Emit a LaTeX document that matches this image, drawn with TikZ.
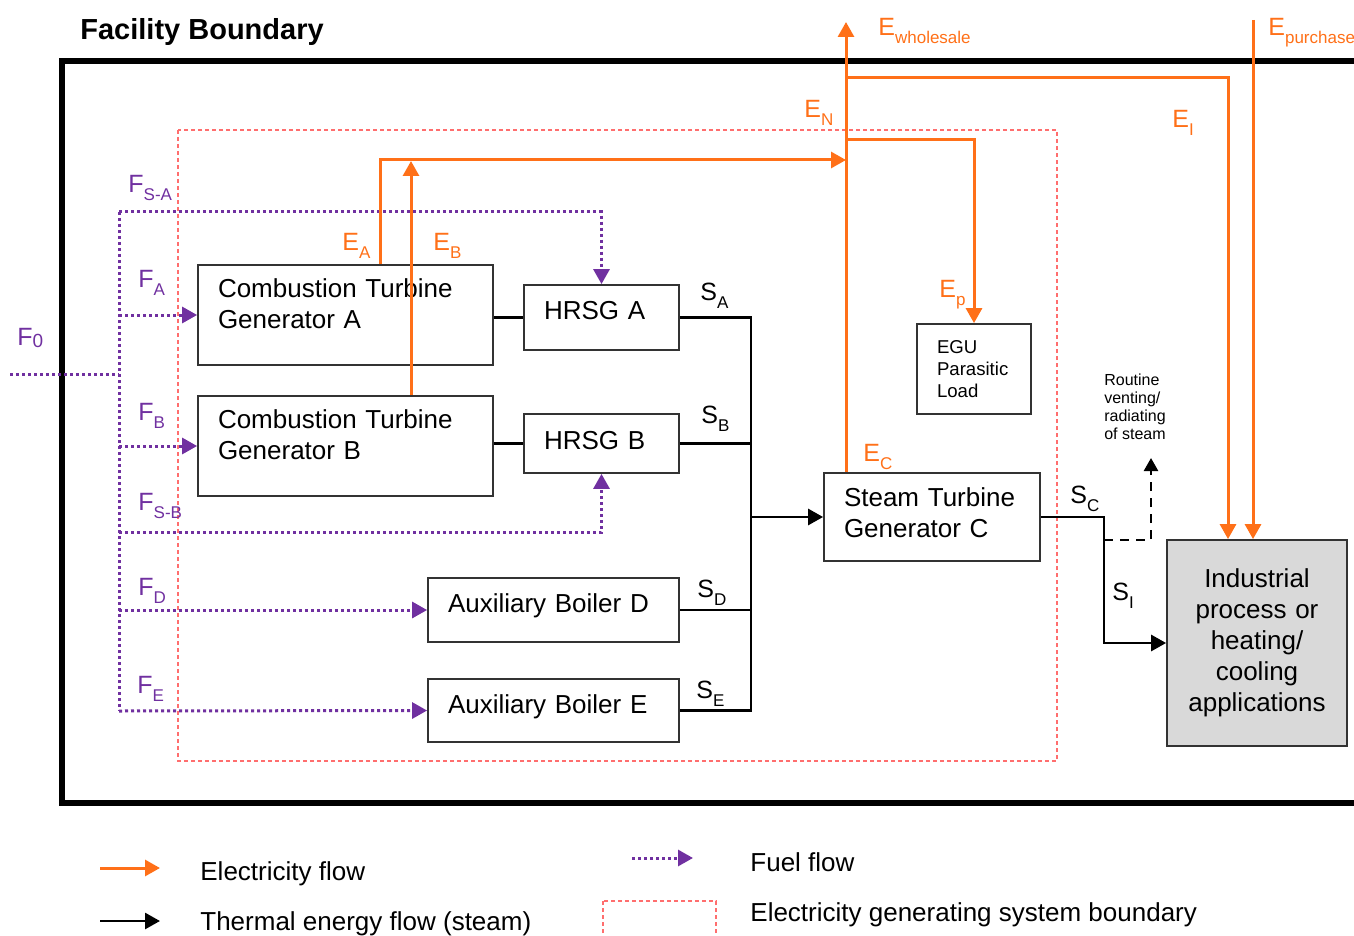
\documentclass[tikz,border=0pt]{standalone}
\usepackage{fontspec}
\setmainfont{Liberation Sans}
\usetikzlibrary{arrows.meta,calc}
\definecolor{ElecOrange}{RGB}{255,112,24}
\definecolor{FuelPurple}{RGB}{112,48,160}
\definecolor{BoundRed}{RGB}{255,110,110}
\definecolor{IndGray}{RGB}{217,217,217}
\newcommand{\Unit}{0.5pt}
\newcommand{\BoxFont}{\fontsize{13}{15.3}\selectfont}
\newcommand{\LabFont}{\fontsize{12.5}{14}\selectfont}
\newcommand{\Lab}[2]{#1\raisebox{-4pt}{\fontsize{8.5}{9}\selectfont #2}}
\tikzset{Box/.style 2 args={
    draw=black!80,
    line width=0.9pt,
    fill=white,
    inner sep=0pt,
    minimum width=#1,
    text width=#1-20pt,
    minimum height=#2,
    align=left,
    font=\BoxFont,
    }
}

\begin{document}
\begin{tikzpicture}[x=\Unit, y=-\Unit,
    elec/.style={draw=ElecOrange, line width=1.5pt},
    steam/.style={draw=black, line width=1.4pt},
    fuel/.style={draw=FuelPurple, line width=1.5pt, dash pattern=on 1.5pt off 1.5pt},
    vent/.style={draw=black, line width=1.2pt, dash pattern=on 4.5pt off 3.5pt},
    bound/.style={draw=BoundRed, line width=0.6pt, dash pattern=on 2pt off 1.5pt},
    tip/.style={-{Triangle[length=7.5pt,width=8pt]}},
    Lbl/.style={inner sep=0pt, anchor=base west, font=\LabFont, text=#1},
]
\useasboundingbox (0,0) rectangle (1354,936);

% boundaries
\draw[line width=3pt] (1360,61) -- (62,61) -- (62,803) -- (1360,803);
\draw[bound] (178,130) rectangle (1057,761);
\node[inner sep=0pt, anchor=base west, font=\bfseries\fontsize{14.5}{16}\selectfont] (title) at (80,40) {Facility Boundary};

% units
\node[Box={147.5pt}{50pt}, text depth=26.5pt] (ctgA) at (345.5,315) {Combustion Turbine\\Generator A};
\node[Box={147.5pt}{50pt}, text depth=26.5pt] (ctgB) at (345.5,446) {Combustion Turbine\\Generator B};
\node[Box={77.5pt}{32.5pt}, text depth=7pt] (hrsgA) at (601.5,317.5) {HRSG A};
\node[Box={77.5pt}{29.5pt}, text depth=3pt] (hrsgB) at (601.5,443.5) {HRSG B};
\node[Box={125.5pt}{32pt}, text depth=6.5pt] (boilD) at (553.5,610) {Auxiliary Boiler D};
\node[Box={125.5pt}{31.5pt}, text depth=6.5pt] (boilE) at (553.5,710.5) {Auxiliary Boiler E};
\node[Box={108pt}{44pt}, text depth=19.5pt] (stgC) at (932,517) {Steam Turbine\\Generator C};
\node[Box={57pt}{45pt}, font=\fontsize{9.3}{10.8}\selectfont] (egu) at (974,369) {EGU\\Parasitic\\Load};
\node[Box={90pt}{103pt}, fill=IndGray, align=center, font=\fontsize{13}{15.5}\selectfont] (ind) at (1257,643) {Industrial\\process or\\heating/\\cooling\\applications};
\node[inner sep=0pt, align=left, font=\fontsize{8}{9}\selectfont] (venttxt) at (1135,407) {Routine\\venting/\\radiating\\of steam};

% steam
\coordinate (sbus) at (751,517);
\coordinate (sj) at (1104,517);
\coordinate (si) at (1104,643);
\coordinate (vj) at (1104,540);
\coordinate (vtop) at (1151,458);
\draw[steam] (ctgA.east |- hrsgA.west) -- (hrsgA.west);
\draw[steam] (ctgB.east |- hrsgB.west) -- (hrsgB.west);
\draw[steam] (hrsgA.east) -| (sbus);
\draw[steam] (boilE.east) -| (sbus);
\draw[steam] (hrsgB.east) -- (hrsgB.east -| sbus);
\draw[steam] (boilD.east) -- (boilD.east -| sbus);
\draw[steam, tip] (sbus) -- (stgC.west);
\draw[steam, tip] (stgC.east) -- (sj) -- (si) -- (ind.west);
\draw[vent, -{Triangle[length=6.5pt,width=7pt]}] (vj) -| (vtop);

% fuel
\coordinate (f0) at (10,374);
\coordinate (ftop) at (119,212);
\coordinate (fbot) at (119,711);
\coordinate (fsb) at (119,532);
\draw[fuel] (f0) -- (f0 -| ftop);
\draw[fuel] (ftop) -- (fbot);
\draw[fuel, tip] (ftop) -| (hrsgA.north);
\draw[fuel, tip] (ftop |- ctgA.west) -- (ctgA.west);
\draw[fuel, tip] (ftop |- ctgB.west) -- (ctgB.west);
\draw[fuel, tip] (fsb) -| (hrsgB.south);
\draw[fuel, tip] (ftop |- boilD.west) -- (boilD.west);
\draw[fuel, tip] (fbot) -- (boilE.west);

% electricity
\coordinate (ewhole) at (846,22);
\coordinate (ea) at (380,160);
\coordinate (eb) at (411,161);
\coordinate (ep) at (974,140);
\coordinate (ei) at (1228,78);
\coordinate (epur) at (1253,20);
\draw[elec, tip] (stgC.north -| ewhole) -- (ewhole);
\draw[elec, tip] (ctgA.north -| ea) |- (ewhole |- ea);
\draw[elec, tip] (ctgB.north -| eb) -- (eb);
\draw[elec, tip] (ewhole |- ep) -| (egu.north);
\draw[elec, tip] (ewhole |- ei) -| (ei |- ind.north);
\draw[elec, tip] (epur) -- (epur |- ind.north);

% labels
\node[Lbl=ElecOrange] (lEwh) at (878,36) {\Lab{E}{wholesale}};
\node[Lbl=ElecOrange] (lEpu) at (1268,36) {\Lab{E}{purchase}};
\node[Lbl=ElecOrange] (lEN) at (804,118) {\Lab{E}{N}};
\node[Lbl=ElecOrange] (lEI) at (1172,128) {\Lab{E}{I}};
\node[Lbl=ElecOrange] (lEA) at (342,250) {\Lab{E}{A}};
\node[Lbl=ElecOrange] (lEB) at (433,250) {\Lab{E}{B}};
\node[Lbl=ElecOrange] (lEP) at (939,298) {\Lab{E}{p}};
\node[Lbl=ElecOrange] (lEC) at (863,461) {\Lab{E}{C}};
\node[Lbl=FuelPurple] (lF0) at (17,345) {F{\fontsize{9.5}{10}\selectfont\raisebox{-1pt}{0}}};
\node[Lbl=FuelPurple] (lFSA) at (128,193) {\Lab{F}{S-A}};
\node[Lbl=FuelPurple] (lFA) at (138,287) {\Lab{F}{A}};
\node[Lbl=FuelPurple] (lFB) at (138,420) {\Lab{F}{B}};
\node[Lbl=FuelPurple] (lFSB) at (138,510) {\Lab{F}{S-B}};
\node[Lbl=FuelPurple] (lFD) at (138,595) {\Lab{F}{D}};
\node[Lbl=FuelPurple] (lFE) at (137,693) {\Lab{F}{E}};
\node[Lbl=black] (lSA) at (700,300) {\Lab{S}{A}};
\node[Lbl=black] (lSB) at (701,423) {\Lab{S}{B}};
\node[Lbl=black] (lSD) at (697,597) {\Lab{S}{D}};
\node[Lbl=black] (lSE) at (696,698) {\Lab{S}{E}};
\node[Lbl=black] (lSC) at (1070,503) {\Lab{S}{C}};
\node[Lbl=black] (lSI) at (1112,600) {\Lab{S}{I}};

% legend
\coordinate (legEa) at (100,868);
\coordinate (legEb) at (160,868);
\coordinate (legSa) at (100,921);
\coordinate (legSb) at (160,921);
\coordinate (legFa) at (632,858);
\coordinate (legFb) at (693,858);
\draw[elec, tip] (legEa) -- (legEb);
\draw[steam, tip] (legSa) -- (legSb);
\draw[fuel, tip] (legFa) -- (legFb);
\draw[bound] (603,901) rectangle (716,990);
\node[inner sep=0pt, anchor=base west, font=\BoxFont] (legE) at (200,880) {Electricity flow};
\node[inner sep=0pt, anchor=base west, font=\BoxFont] (legS) at (200,930) {Thermal energy flow (steam)};
\node[inner sep=0pt, anchor=base west, font=\BoxFont] (legF) at (750,871) {Fuel flow};
\node[inner sep=0pt, anchor=base west, font=\BoxFont] (legB) at (750,921) {Electricity generating system boundary};
\end{tikzpicture}
\end{document}
